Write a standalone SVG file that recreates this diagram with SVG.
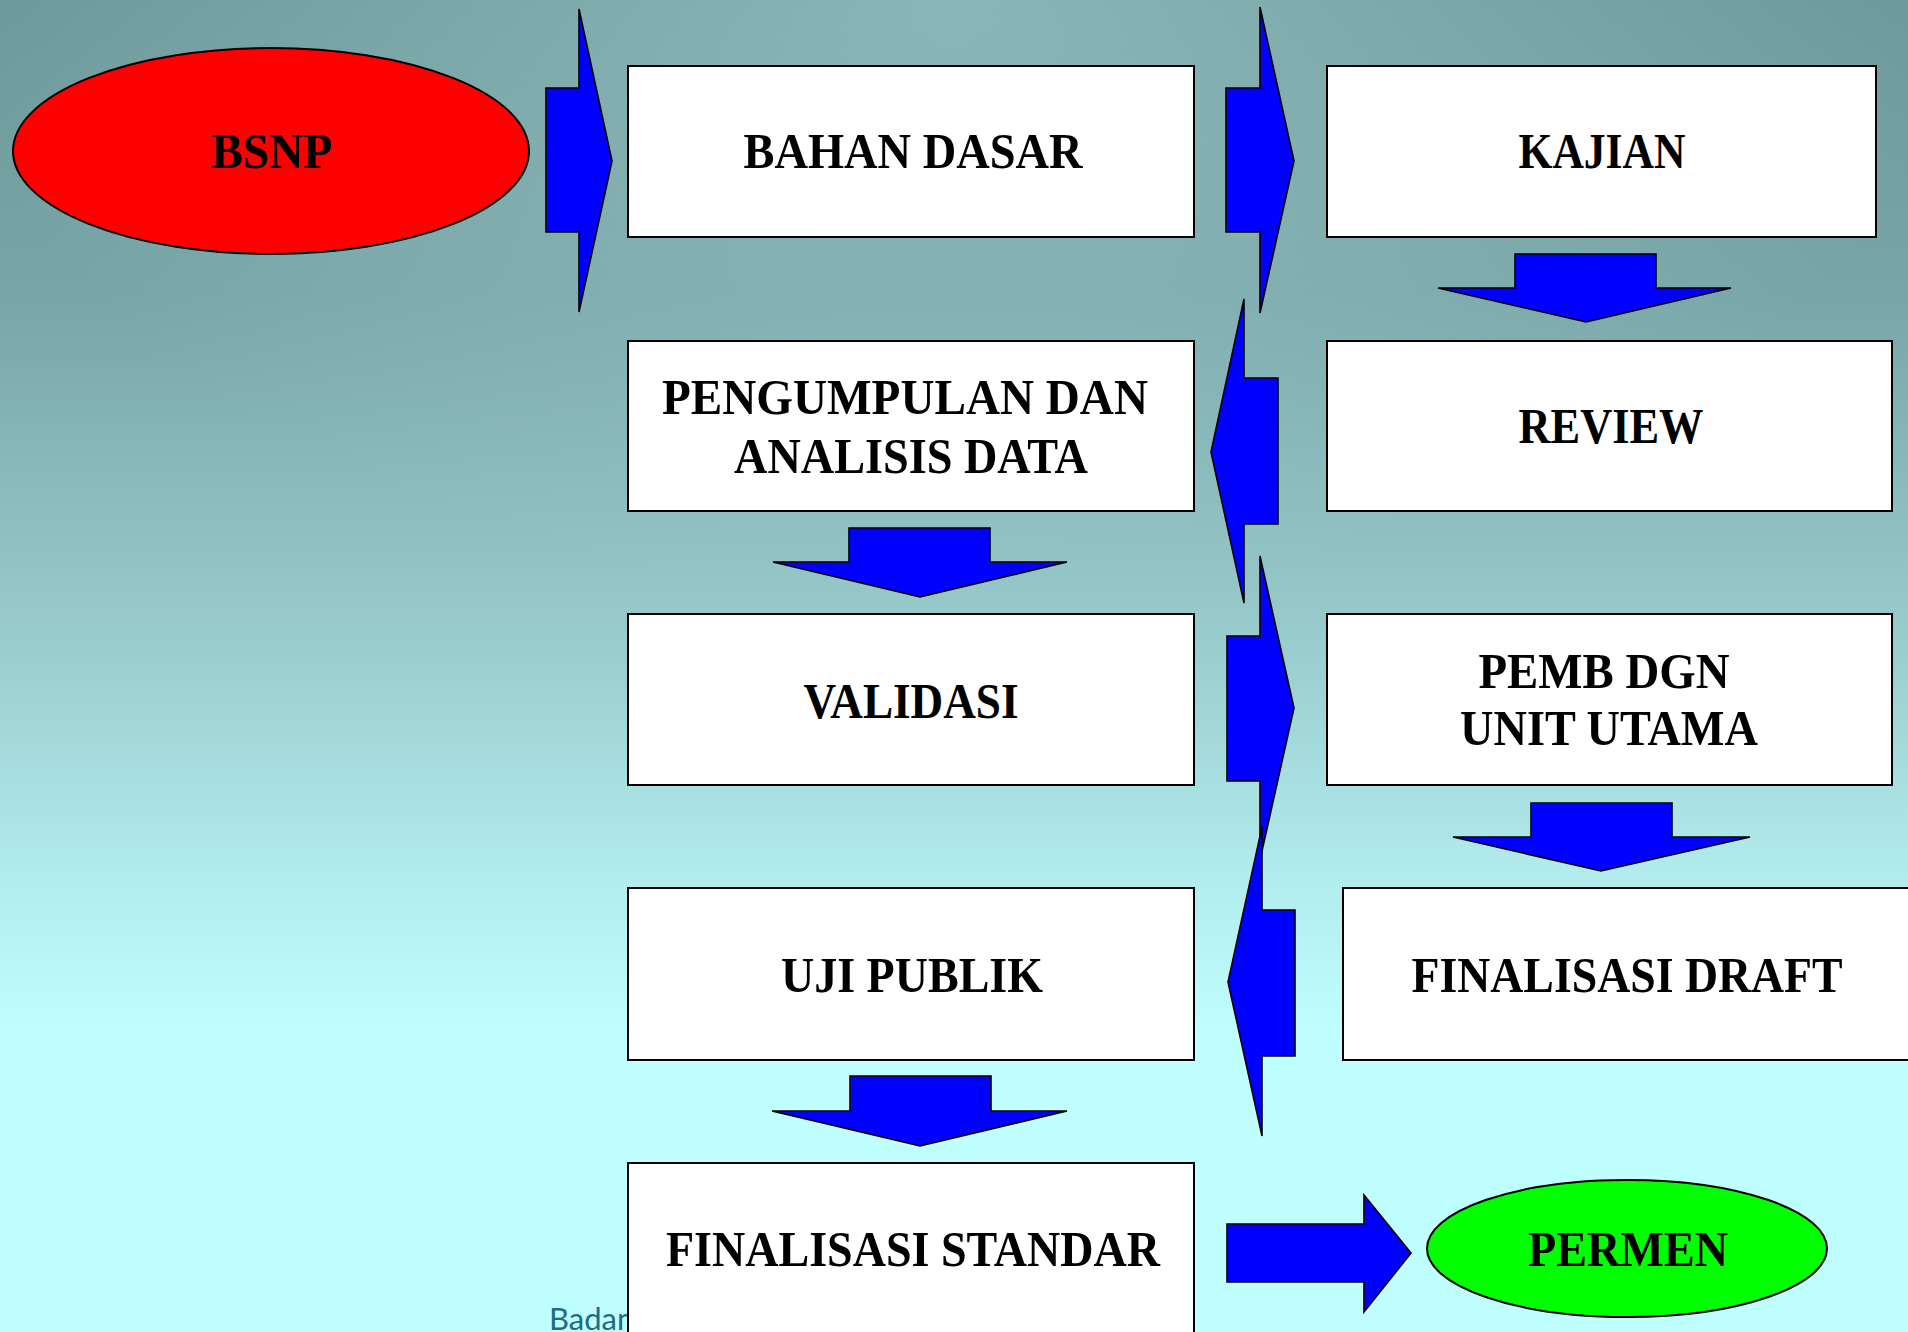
<svg xmlns="http://www.w3.org/2000/svg" width="1908" height="1332" viewBox="0 0 1908 1332">
<defs>
<linearGradient id="bg" x1="0" y1="0" x2="0" y2="1332" gradientUnits="userSpaceOnUse">
<stop offset="0" stop-color="#6d9899"/>
<stop offset="0.22" stop-color="#78a5a7"/>
<stop offset="0.5" stop-color="#9ccfd0"/>
<stop offset="0.66" stop-color="#b2eced"/>
<stop offset="0.78" stop-color="#c0ffff"/>
<stop offset="1" stop-color="#c0ffff"/>
</linearGradient>
<radialGradient id="glow" gradientUnits="userSpaceOnUse" cx="954" cy="0" r="1000" gradientTransform="translate(954 0) scale(1 0.6) translate(-954 0)">
<stop offset="0" stop-color="#a8d4d6" stop-opacity="0.5"/>
<stop offset="1" stop-color="#a8d4d6" stop-opacity="0"/>
</radialGradient>
<style>
.box{fill:#ffffff;stroke:#000000;stroke-width:2}
.arr{fill:#0000ff;stroke:#000000;stroke-width:1.6;stroke-linejoin:miter}
.lbl{font-family:"Liberation Serif","Times New Roman",serif;font-weight:bold;font-size:51px;fill:#000000;text-anchor:middle}
.foot{font-family:Lato,"Open Sans",sans-serif;font-size:31px;fill:#1d6c80}
</style>
</defs>
<rect x="0" y="0" width="1908" height="1332" fill="url(#bg)"/>
<rect x="0" y="0" width="1908" height="1332" fill="url(#glow)"/>
<text class="foot" x="549" y="1330">Badan</text>
<g id="connectors">
<polygon class="arr" points="546,88 579,88 579,9 612,161 579,312 579,232 546,232"/>
<polygon class="arr" points="1226,88 1260,88 1260,7 1294,161 1260,313 1260,232 1226,232"/>
<polygon class="arr" points="1515,254 1656,254 1656,288 1731,288 1586,322 1438,288 1515,288"/>
<polygon class="arr" points="1278,378 1244,378 1244,299 1211,452 1244,603 1244,524 1278,524"/>
<polygon class="arr" points="849,528 990,528 990,562 1067,562 920,597 773,562 849,562"/>
<polygon class="arr" points="1227,636 1260,636 1260,556 1294,708 1260,860 1260,781 1227,781"/>
<polygon class="arr" points="1531,803 1672,803 1672,837 1750,837 1601,871 1453,837 1531,837"/>
<polygon class="arr" points="1295,910 1262,910 1262,827 1228,982 1262,1136 1262,1056 1295,1056"/>
<polygon class="arr" points="850,1076 991,1076 991,1111 1067,1111 920,1146 772,1111 850,1111"/>
<polygon class="arr" points="1227,1224 1364,1224 1364,1195 1411,1253 1364,1312 1364,1282 1227,1282"/>
</g>
<g id="bsnp">
<ellipse cx="271" cy="151" rx="258" ry="103" fill="#ff0000" stroke="#000" stroke-width="2"/>
<text class="lbl" x="272" y="168" textLength="121" lengthAdjust="spacingAndGlyphs">BSNP</text>
</g>
<g id="bahan-dasar">
<rect class="box" x="628" y="66" width="566" height="171"/>
<text class="lbl" x="913" y="168" textLength="339" lengthAdjust="spacingAndGlyphs">BAHAN DASAR</text>
</g>
<g id="kajian">
<rect class="box" x="1327" y="66" width="549" height="171"/>
<text class="lbl" x="1602" y="168" textLength="167" lengthAdjust="spacingAndGlyphs">KAJIAN</text>
</g>
<g id="pengumpulan">
<rect class="box" x="628" y="341" width="566" height="170"/>
<text class="lbl" x="905" y="414" textLength="486" lengthAdjust="spacingAndGlyphs">PENGUMPULAN DAN</text>
<text class="lbl" x="911" y="473" textLength="354" lengthAdjust="spacingAndGlyphs">ANALISIS DATA</text>
</g>
<g id="review">
<rect class="box" x="1327" y="341" width="565" height="170"/>
<text class="lbl" x="1611" y="443" textLength="185" lengthAdjust="spacingAndGlyphs">REVIEW</text>
</g>
<g id="validasi">
<rect class="box" x="628" y="614" width="566" height="171"/>
<text class="lbl" x="911" y="718" textLength="215" lengthAdjust="spacingAndGlyphs">VALIDASI</text>
</g>
<g id="pemb-dgn">
<rect class="box" x="1327" y="614" width="565" height="171"/>
<text class="lbl" x="1604" y="688" textLength="251" lengthAdjust="spacingAndGlyphs">PEMB DGN</text>
<text class="lbl" x="1609" y="745" textLength="298" lengthAdjust="spacingAndGlyphs">UNIT UTAMA</text>
</g>
<g id="uji-publik">
<rect class="box" x="628" y="888" width="566" height="172"/>
<text class="lbl" x="912" y="992" textLength="262" lengthAdjust="spacingAndGlyphs">UJI PUBLIK</text>
</g>
<g id="finalisasi-draft">
<rect class="box" x="1343" y="888" width="580" height="172"/>
<text class="lbl" x="1627" y="992" textLength="431" lengthAdjust="spacingAndGlyphs">FINALISASI DRAFT</text>
</g>
<g id="finalisasi-standar">
<rect class="box" x="628" y="1163" width="566" height="190"/>
<text class="lbl" x="913" y="1266" textLength="494" lengthAdjust="spacingAndGlyphs">FINALISASI STANDAR</text>
</g>
<g id="permen">
<ellipse cx="1627" cy="1248.5" rx="200" ry="68.5" fill="#00ff00" stroke="#000" stroke-width="2"/>
<text class="lbl" x="1628" y="1266" textLength="200" lengthAdjust="spacingAndGlyphs">PERMEN</text>
</g>
</svg>
